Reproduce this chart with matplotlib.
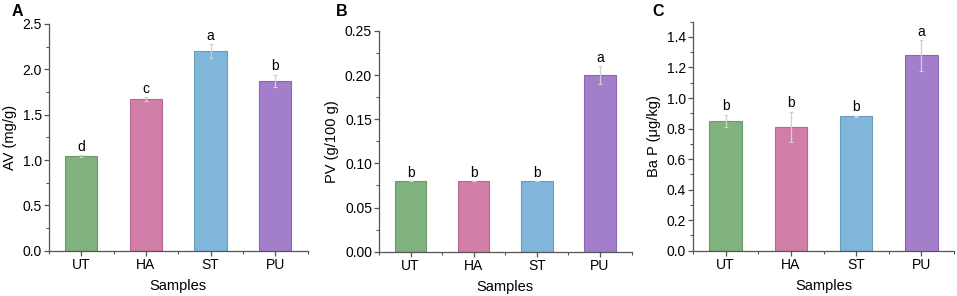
import matplotlib
matplotlib.use("Agg")
import matplotlib.pyplot as plt
from matplotlib.ticker import MultipleLocator

plt.rcParams['font.family'] = ['Liberation Sans', 'DejaVu Sans']

samples = ["UT", "HA", "ST", "PU"]
colors = ["#80b27f", "#d17ea8", "#80b6d9", "#a37fcb"]
edges = ["#6a9a69", "#b56a90", "#6a9cbd", "#8a68b0"]

av = [1.04, 1.67, 2.20, 1.87]
av_err = [0.01, 0.02, 0.08, 0.07]
av_sig = ["d", "c", "a", "b"]

pv = [0.08, 0.08, 0.08, 0.20]
pv_err = [0.0, 0.0, 0.0, 0.01]
pv_sig = ["b", "b", "b", "a"]

bap = [0.85, 0.81, 0.88, 1.28]
bap_err = [0.04, 0.10, 0.005, 0.10]
bap_sig = ["b", "b", "b", "a"]

panels = [
    dict(vals=av, err=av_err, sig=av_sig, ylabel="AV (mg/g)", ylim=(0, 2.5),
         major=0.5, minor=0.25, fmt="{:.1f}", letter="A",
         pos=[49/957, 1-250.7/296, (307.5-49)/957, (250.7-24)/296], lpos=(12/957, 1-12/296)),
    dict(vals=pv, err=pv_err, sig=pv_sig, ylabel="PV (g/100 g)", ylim=(0, 0.25),
         major=0.05, minor=0.025, fmt="{:.2f}", letter="B",
         pos=[379/957, 1-251.7/296, (631.5-379)/957, (251.7-31)/296], lpos=(336/957, 1-12/296)),
    dict(vals=bap, err=bap_err, sig=bap_sig, ylabel="Ba P (\u03bcg/kg)", ylim=(0, 1.5),
         major=0.2, minor=0.1, fmt="{:.1f}", letter="C",
         pos=[693/957, 1-250.7/296, (954-693)/957, (250.7-21.7)/296], lpos=(652/957, 1-12/296)),
]

fig = plt.figure(figsize=(9.57, 2.96), dpi=100)
x = [1, 2, 3, 4]
for p in panels:
    ax = fig.add_axes(p["pos"])
    ax.bar(x, p["vals"], width=0.5, color=colors, edgecolor=edges, linewidth=0.8, zorder=2)
    ax.errorbar(x, p["vals"], yerr=p["err"], fmt="none", ecolor="#d0d0d0",
                elinewidth=0.9, capsize=1.2, capthick=0.8, zorder=3)
    for xi, v, e, s in zip(x, p["vals"], p["err"], p["sig"]):
        ax.annotate(s, (xi, v + e), xytext=(0, 1), textcoords="offset points",
                    ha="center", va="bottom", fontsize=10)
    ax.set_xlim(0.5, 4.5)
    ax.set_ylim(*p["ylim"])
    ax.set_xticks(x)
    ax.set_xticklabels(samples)
    ax.xaxis.set_minor_locator(MultipleLocator(0.5))
    ax.yaxis.set_major_locator(MultipleLocator(p["major"]))
    ax.yaxis.set_minor_locator(MultipleLocator(p["minor"]))
    ax.yaxis.set_major_formatter(matplotlib.ticker.FuncFormatter(lambda v, _, f=p["fmt"]: f.format(v)))
    for s in ["top", "right"]:
        ax.spines[s].set_visible(False)
    for s in ["left", "bottom"]:
        ax.spines[s].set_color("#555555")
        ax.spines[s].set_linewidth(0.9)
    ax.tick_params(which="major", direction="out", length=3.5, width=0.9, color="#555555",
                   labelsize=10, pad=1.5)
    ax.tick_params(which="minor", direction="out", length=2, width=0.8, color="#555555")
    ax.set_xlabel("Samples", fontsize=10.5, labelpad=5)
    ax.set_ylabel(p["ylabel"], fontsize=10.5, labelpad=4)
    fig.text(p["lpos"][0], p["lpos"][1], p["letter"], fontsize=11.5, fontweight="bold",
             ha="left", va="center")

fig.savefig("out.png", dpi=100)
